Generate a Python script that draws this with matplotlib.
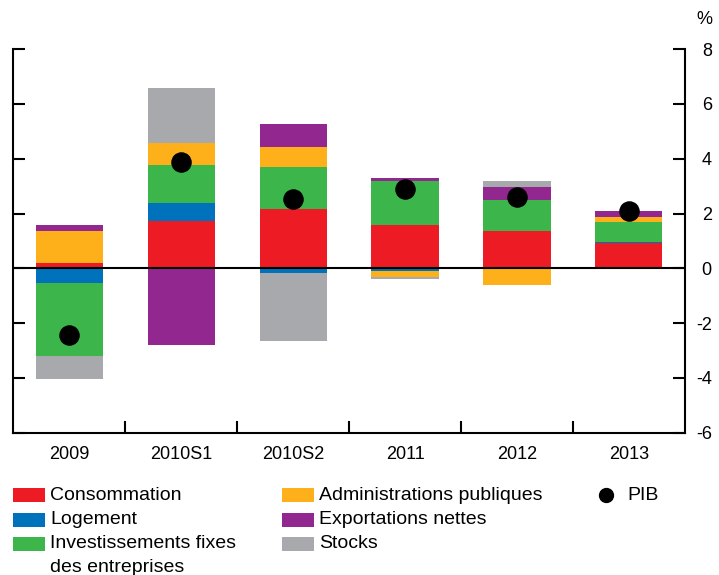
import numpy as np
import matplotlib.pyplot as plt
from matplotlib.patches import Rectangle
from matplotlib.lines import Line2D

plt.rcParams['font.family'] = ['Liberation Sans', 'DejaVu Sans']
plt.rcParams['axes.unicode_minus'] = False

periods = ['2009', '2010S1', '2010S2', '2011', '2012', '2013']

# contributions to GDP growth, percentage points
consommation = [0.19, 1.74, 2.17, 1.58, 1.37, 0.91]
logement = [-0.55, 0.64, -0.16, -0.08, 0.0, 0.06]
investissements = [-2.65, 1.39, 1.52, 1.60, 1.12, 0.72]
administrations = [1.17, 0.81, 0.73, -0.22, -0.61, 0.19]
exportations = [0.21, -2.81, 0.85, 0.12, 0.49, 0.21]
stocks = [-0.85, 2.02, -2.48, -0.10, 0.21, 0.0]
pib = [-2.45, 3.88, 2.54, 2.90, 2.60, 2.09]

series = [
    ('Consommation', consommation, '#ED1C24'),
    ('Logement', logement, '#0072BC'),
    ('Investissements fixes\ndes entreprises', investissements, '#3CB54A'),
    ('Administrations publiques', administrations, '#FDB01A'),
    ('Exportations nettes', exportations, '#92278F'),
    ('Stocks', stocks, '#A7A9AC'),
]

fig = plt.figure(figsize=(7.19, 5.75), dpi=100)
ax = fig.add_axes([0.0185, 0.2475, 0.934, 0.667])

# positive and negative parts stacked separately from zero
x = np.arange(len(periods))
pos_base = np.zeros(len(periods))
neg_base = np.zeros(len(periods))
for name, vals, col in series:
    v = np.array(vals)
    base = np.where(v >= 0, pos_base, neg_base)
    ax.bar(x, v, width=0.6, bottom=base, color=col, linewidth=0, zorder=2)
    pos_base += np.clip(v, 0, None)
    neg_base += np.clip(v, None, 0)

ax.axhline(0, color='black', lw=1.5, zorder=3)
ax.scatter(x, pib, s=190, color='black', zorder=4)

ax.set_xlim(-0.5, len(periods) - 0.5)
ax.set_ylim(-6, 8)
ax.set_yticks(range(-6, 9, 2))
ax.set_xticks(x)
ax.set_xticklabels(periods)
ax.set_xticks(x[:-1] + 0.5, minor=True)

ax.spines['top'].set_visible(False)
for s in ['left', 'right', 'bottom']:
    ax.spines[s].set_linewidth(1.5)

ax.tick_params(axis='y', left=True, right=True, labelleft=False, labelright=True,
               direction='in', length=8.5, width=1.5, labelsize=13, pad=19.4)
for lbl in ax.get_yticklabels():
    lbl.set_ha('right')
ax.tick_params(axis='x', which='major', length=0, labelsize=13, pad=9.5)
ax.tick_params(axis='x', which='minor', direction='in', length=8.5, width=1.5)

fig.text(712 / 719, 1 - 19 / 575, '%', ha='right', va='center', fontsize=13)

# legend laid out in three columns below the axes
W, H = 719, 575

def legend_patch(px, py, col):
    fig.patches.append(Rectangle((px / W, 1 - (py + 7) / H), 32 / W, 14 / H,
                                 transform=fig.transFigure, color=col, lw=0))

rows = [495, 520, 544]
col_x = [13, 282]
for i, (name, vals, col) in enumerate(series):
    cx = col_x[i // 3]
    ry = rows[i % 3]
    legend_patch(cx, ry, col)
    for k, line in enumerate(name.split('\n')):
        fig.text((cx + 37) / W, 1 - (ry + 23 * k) / H, line, ha='left', va='center', fontsize=14)

fig.lines.append(Line2D([606 / W], [1 - 495 / H], marker='o', markersize=10, color='black',
                        linestyle='none', transform=fig.transFigure))
fig.text(627 / W, 1 - 495 / H, 'PIB', ha='left', va='center', fontsize=14)

fig.savefig('out.png', dpi=100)
